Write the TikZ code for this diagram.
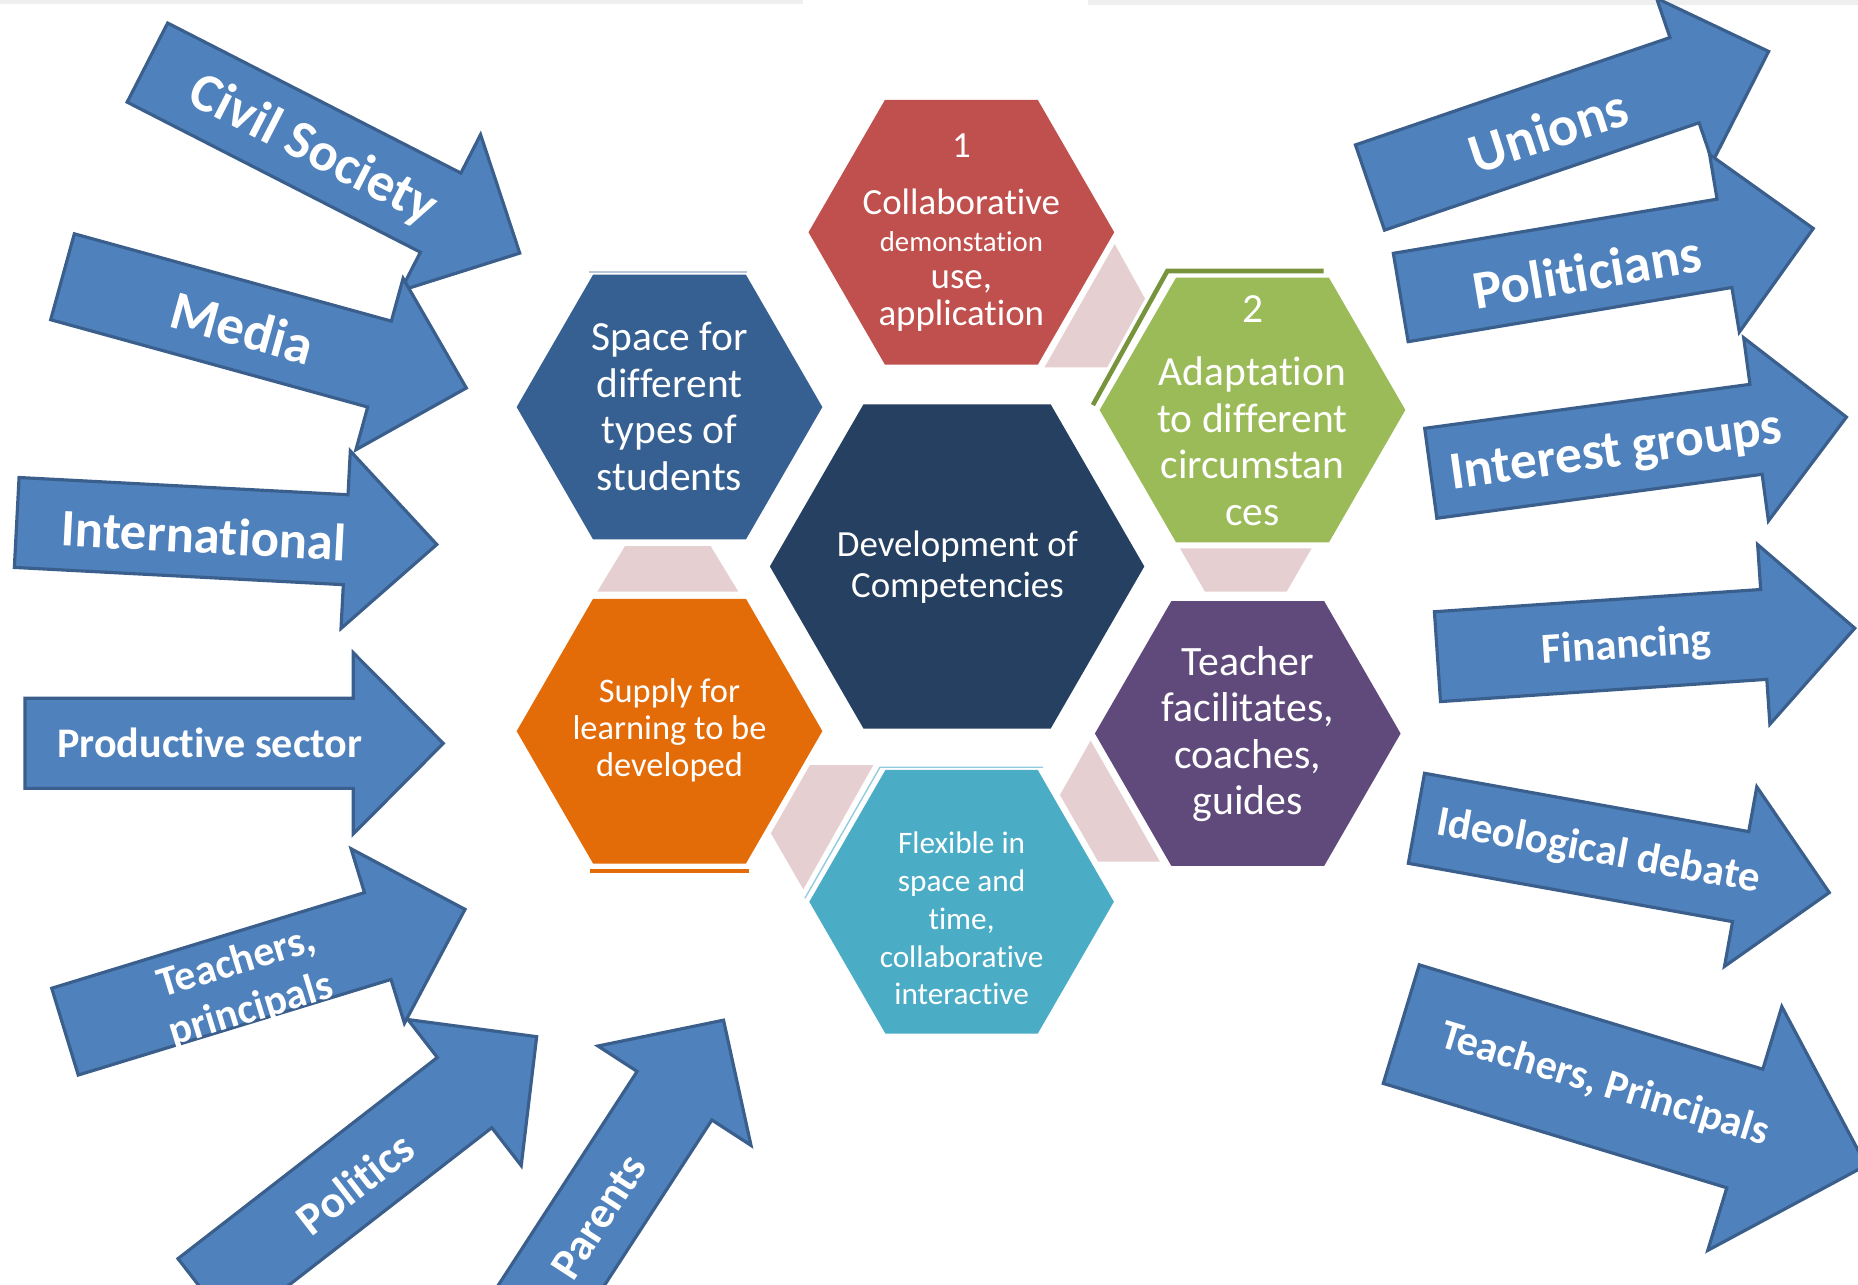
\documentclass[tikz,border=0pt]{standalone}
\usepackage{fontspec}
\setmainfont{Carlito}[Ligatures={NoCommon}]
\definecolor{arrowfill}{HTML}{4F81BD}
\definecolor{arrowline}{HTML}{3A5F8C}
\definecolor{hexred}{HTML}{C0504D}
\definecolor{hexblue}{HTML}{366092}
\definecolor{hexnavy}{HTML}{254061}
\definecolor{hexgreen}{HTML}{9BBB59}
\definecolor{hexgreenline}{HTML}{77933C}
\definecolor{hexpurple}{HTML}{604A7B}
\definecolor{hexteal}{HTML}{4BACC6}
\definecolor{hexorange}{HTML}{E36C09}
\definecolor{linkpink}{HTML}{E6CFD1}
\definecolor{topgray}{HTML}{EFEFEF}
\tikzset{
  arrowbox/.style={fill=arrowfill, draw=arrowline, line width=0.9pt, line join=miter},
  arrowlabel/.style={text=white, inner sep=0pt, align=center, font=\bfseries\fontsize{#1}{#1}\selectfont},
  hexlabel/.style={text=white, inner sep=0pt, align=center},
  link/.style={fill=linkpink},
}
\newcommand{\blockarrow}[7]{%
  \draw[arrowbox, shift={(#1,#2)}, rotate=#3]
    (0,-#5) -- ({#4-#7},-#5) -- ({#4-#7},-#6) -- (#4,0) -- ({#4-#7},#6) -- ({#4-#7},#5) -- (0,#5) -- cycle;}
\newcommand{\hexcell}[5]{%
  \fill[#5] (#2,#3) +(0:#4) -- +(60:#4) -- +(120:#4) -- +(180:#4) -- +(240:#4) -- +(300:#4) -- cycle;
  \coordinate (#1) at (#2,#3);}
\begin{document}
\begin{tikzpicture}[x=0.01185cm, y=-0.01185cm]
\useasboundingbox (0,0) rectangle (1568,1084);
\clip (0,0) rectangle (1568,1084);
\fill[white] (0,0) rectangle (1568,1084);
\fill[topgray] (0,0) rectangle (678,3.5);
\fill[topgray] (918,0) rectangle (1568,4);

% connecting pink pieces
\fill[link] (940.7,206) -- (966.3,252) -- (934.3,310) -- (881.5,310) -- cycle;
\fill[link] (527.4,460.8) -- (599.7,460.8) -- (623.1,499.3) -- (504.1,499.3) -- cycle;
\fill[link] (995.8,462.7) -- (1106.9,462.7) -- (1085.8,499.3) -- (1016.9,499.3) -- cycle;
\fill[link] (683.5,645.6) -- (737,645.6) -- (677.9,750.5) -- (650.6,703.2) -- cycle;
\fill[link] (920.4,625) -- (978.9,727.2) -- (926.8,727.2) -- (894.5,670.9) -- cycle;

% hexagons
\draw[hexgreenline, line width=1.3pt] (922.3,341.8) -- (985.1,228.7) -- (1117,228.7);
\draw[hexteal!60, line width=0.4pt] (679.3,758) -- (742.6,647.5) -- (880,647.5);
\draw[hexblue!35, line width=0.4pt] (497,229.5) -- (630,229.5);
\fill[hexorange] (498,733.5) rectangle (632,737);
\hexcell{collab}{811.3}{196}{129}{hexred}
\hexcell{space}{565}{343.5}{129}{hexblue}
\hexcell{core}{807.7}{478}{158}{hexnavy}
\hexcell{adapt}{1057}{346}{129}{hexgreen}
\hexcell{teacher}{1053}{619}{129}{hexpurple}
\hexcell{flex}{811.5}{761}{128.5}{hexteal}
\hexcell{supply}{565}{617}{129}{hexorange}

\node[hexlabel, font=\fontsize{10.5}{10.6}\selectfont] (collabtext) at (811.3,196.5)
  {1\\[5.5pt]Collaborative\\{\fontsize{8.2}{9}\selectfont demonstation}\\use,\\application};
\node[hexlabel, font=\fontsize{11.8}{13.2}\selectfont] (spacetext) at (565,343)
  {Space for\\different\\types of\\students};
\node[hexlabel, font=\fontsize{10.5}{11.5}\selectfont] (coretext) at (808,478.5)
  {Development of\\Competencies};
\node[hexlabel, font=\fontsize{11.8}{13.2}\selectfont] (adapttext) at (1057,346.5)
  {2\\[4.8pt]Adaptation\\to different\\circumstan\\ces};
\node[hexlabel, font=\fontsize{11.9}{13.2}\selectfont] (teachertext) at (1053,619.5)
  {Teacher\\facilitates,\\coaches,\\guides};
\node[hexlabel, font=\fontsize{9.8}{10.6}\selectfont] (supplytext) at (565,616.5)
  {Supply for\\learning to be\\developed};
\node[hexlabel, font=\fontsize{8.9}{10.8}\selectfont] (flextext) at (811.5,775)
  {Flexible in\\space and\\time,\\collaborative\\interactive};

% left arrows
\blockarrow{124.4}{52.8}{-27.1}{353}{37.5}{74}{75}
\blockarrow{52.75}{233.55}{-15.4}{353.5}{37.6}{75}{76}
\blockarrow{14.1}{440.9}{-3}{355}{38}{75}{77}
\blockarrow{21.1}{627.3}{0}{353}{38}{76.5}{76}
\blockarrow{54.85}{870.6}{17}{353}{38.3}{77}{77}
\blockarrow{173.2}{1091.8}{37.8}{354}{37.5}{78}{77}
\blockarrow{417.8}{1157.8}{57}{354}{37.6}{77}{76}
% right arrows
\blockarrow{1156.15}{158.25}{18.85}{355.5}{38}{73}{75}
\blockarrow{1182.1}{251.05}{9.5}{353}{37.8}{76}{76}
\blockarrow{1207.45}{399.4}{7.7}{354}{38.3}{78}{77}
\blockarrow{1213.1}{554.15}{3.9}{353}{38}{76}{77}
\blockarrow{1195.35}{690.55}{-10.2}{354}{38.6}{77}{76}
\blockarrow{1182.55}{864.25}{-16.9}{410}{52.3}{107.5}{107}

\node[arrowlabel=15.5, rotate=-27.1] (civil) at (264,127) {Civil Society};
\node[arrowlabel=15.6, rotate=-15.4] (media) at (205,276.5) {Media};
\node[arrowlabel=15, rotate=-3] (intl) at (172,451.5) {International};
\node[arrowlabel=12, rotate=0] (prod) at (177.2,627.3) {Productive sector};
\node[arrowlabel=12, rotate=17] (teachl) at (206,832.6) {Teachers,\\[2pt]principals};
\node[arrowlabel=13, rotate=37.8] (politics) at (299.6,998.6) {Politics};
\node[arrowlabel=12.6, rotate=57] (parents) at (505.5,1027) {Parents};
\node[arrowlabel=16, rotate=18] (unions) at (1306.6,110) {Unions};
\node[arrowlabel=15.5, rotate=9.5] (politicians) at (1339,229.3) {Politicians};
\node[arrowlabel=15.2, rotate=8] (interest) at (1364.3,382.6) {Interest groups};
\node[arrowlabel=12.2, rotate=3.7] (financing) at (1372.7,545.7) {Financing};
\node[arrowlabel=12.2, rotate=-10.2] (ideology) at (1349,719) {Ideological debate};
\node[arrowlabel=12, rotate=-16.9] (teachr) at (1354.2,915.6) {Teachers, Principals};
\end{tikzpicture}
\end{document}
